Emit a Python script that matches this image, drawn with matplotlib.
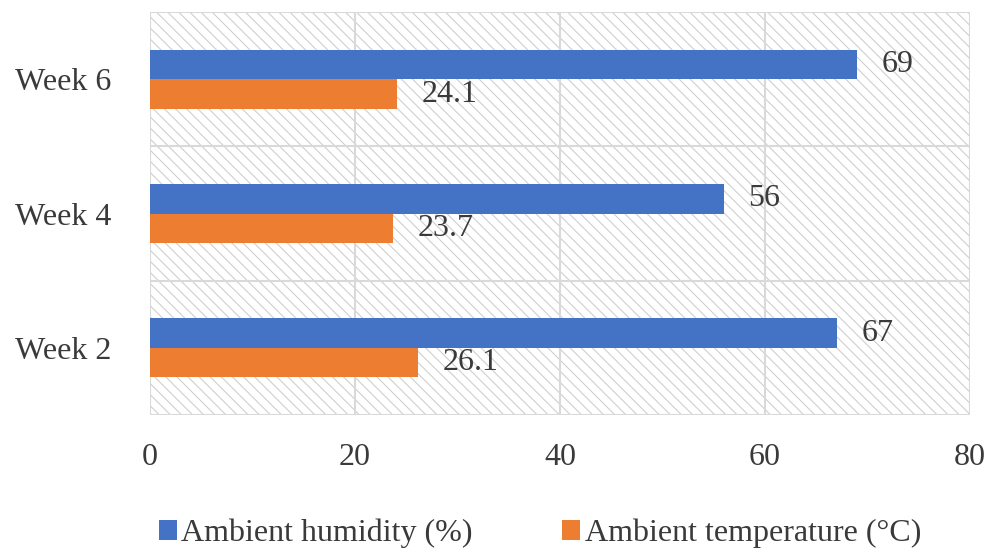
import matplotlib.pyplot as plt
import numpy as np
from matplotlib.patches import Rectangle

weeks = ['Week 2', 'Week 4', 'Week 6']
humidity = [67, 56, 69]
temperature = [26.1, 23.7, 24.1]
humidity_labels = ['67', '56', '69']
temp_labels = ['26.1', '23.7', '24.1']

plt.rcParams['font.family'] = ['Liberation Serif', 'DejaVu Serif']
plt.rcParams['hatch.linewidth'] = 0.8

fig = plt.figure(figsize=(9.91, 5.53), dpi=100)
ax = fig.add_axes([0.1514, 0.2495, 0.8274, 0.7285])

blue = '#4472C4'
orange = '#ED7D31'
grid = '#d9d9d9'
txt = '#3a3a3a'
fs = 23

y = np.arange(len(weeks))
h = 0.22
ax.barh(y + h / 2, humidity, height=h, color=blue, zorder=3, label='Ambient humidity (%)')
ax.barh(y - h / 2, temperature, height=h, color=orange, zorder=3, label='Ambient temperature (°C)')

for yi, v, s in zip(y, humidity, humidity_labels):
    ax.text(v + 2.4, yi + h / 2, s, va='center', ha='left', fontsize=fs, color=txt, zorder=4)
for yi, v, s in zip(y, temperature, temp_labels):
    ax.text(v + 2.4, yi - h / 2, s, va='center', ha='left', fontsize=fs, color=txt, zorder=4)

# hatched background
ax.add_patch(Rectangle((0, 0), 1, 1, transform=ax.transAxes, fill=False,
                       hatch='\\\\\\', edgecolor='#cfcfcf', linewidth=0, zorder=0))

ax.set_xlim(0, 80)
ax.set_ylim(-0.5, 2.5)
ax.set_xticks([0, 20, 40, 60, 80])
ax.set_yticks(y)
ax.set_yticklabels(weeks)
for x in [0, 20, 40, 60, 80]:
    ax.axvline(x, color=grid, lw=1.5, zorder=1)
for yy in [-0.5, 0.5, 1.5, 2.5]:
    ax.axhline(yy, color=grid, lw=1.5, zorder=1)
for sp in ax.spines.values():
    sp.set_visible(False)
ax.tick_params(length=0, labelsize=fs, colors=txt)
ax.tick_params(axis='x', pad=20)
ax.tick_params(axis='y', pad=28)

fig.legend(loc='center', bbox_to_anchor=(0.545, 0.035), ncol=2, frameon=False,
           fontsize=fs, handlelength=0.55, handleheight=0.55, handletextpad=0.15,
           columnspacing=2.8, labelcolor=txt)

fig.savefig('out.png', dpi=100)
